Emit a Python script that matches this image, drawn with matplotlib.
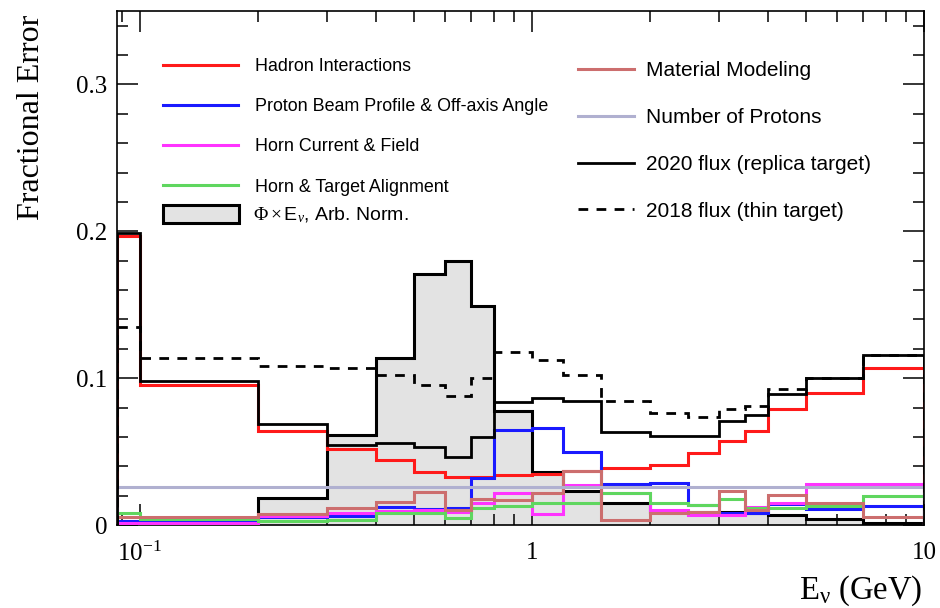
import numpy as np
import matplotlib.pyplot as plt
from matplotlib.lines import Line2D
from matplotlib.patches import Patch
from matplotlib.ticker import FixedLocator, FixedFormatter, MultipleLocator

plt.rcParams['mathtext.fontset'] = 'custom'
plt.rcParams['mathtext.rm'] = 'Liberation Serif'
plt.rcParams['mathtext.it'] = 'Liberation Serif:italic'

# bin edges in GeV
edges = [0.0875, 0.1, 0.2, 0.3, 0.4, 0.5, 0.6, 0.7, 0.8, 1.0, 1.2, 1.5,
         2.0, 2.5, 3.0, 3.5, 4.0, 5.0, 7.0, 10.0]

# fractional errors per bin
hadron = [0.197, 0.095, 0.064, 0.052, 0.044, 0.036, 0.033, 0.033, 0.034, 0.035,
          0.037, 0.039, 0.041, 0.049, 0.057, 0.064, 0.079, 0.090, 0.107]
beam = [0.003, 0.0025, 0.0055, 0.006, 0.0125, 0.0107, 0.0118, 0.0317, 0.0646, 0.0658,
        0.0499, 0.0277, 0.0288, 0.0135, 0.008, 0.0084, 0.014, 0.0109, 0.0129]
horn_current = [0.0011, 0.0016, 0.0061, 0.008, 0.0095, 0.0105, 0.009, 0.0147, 0.022, 0.0075,
                0.0272, 0.0215, 0.0102, 0.0068, 0.0068, 0.0125, 0.0152, 0.0277, 0.0277]
alignment = [0.0085, 0.0039, 0.003, 0.0034, 0.0084, 0.008, 0.0045, 0.0113, 0.0129, 0.0152,
             0.0147, 0.0215, 0.015, 0.0136, 0.018, 0.0113, 0.0113, 0.0131, 0.0197]
material = [0.0057, 0.0052, 0.0073, 0.0113, 0.0159, 0.0225, 0.0102, 0.018, 0.017, 0.0215,
            0.037, 0.0034, 0.0084, 0.009, 0.0231, 0.0102, 0.0204, 0.0147, 0.0057]
n_protons = [0.026] * 19
total_2020 = [0.199, 0.098, 0.0687, 0.0544, 0.0557, 0.0533, 0.0465, 0.060, 0.0839, 0.0866,
              0.0843, 0.0635, 0.0605, 0.0605, 0.0707, 0.0748, 0.0889, 0.1002, 0.1161]
total_2018 = [0.135, 0.1138, 0.108, 0.1066, 0.102, 0.0952, 0.088, 0.1002, 0.1179, 0.1122,
              0.102, 0.0843, 0.076, 0.0737, 0.0789, 0.081, 0.0923, 0.1002, 0.1156]
# flux x energy, arbitrary normalisation
flux = [0.0008, 0.001, 0.0185, 0.061, 0.1134, 0.171, 0.1798, 0.149, 0.0776, 0.036,
        0.023, 0.0152, 0.009, 0.009, 0.009, 0.0084, 0.0068, 0.0039, 0.0016]

xticks = [0.1, 1, 10]
xticklabels = ['$10^{-1}$', '1', '10']

fig = plt.figure(figsize=(9.4, 6.08), dpi=100)
ax = fig.add_axes([0.1245, 0.1365, 0.8585, 0.8454])

fill_col = '#e3e3e3'
ax.stairs(flux, edges, fill=True, color=fill_col, zorder=1)
ax.stairs(flux, edges, color='black', lw=2.2, zorder=2)

systs = [
    (hadron, '#ff1a1a', 'Hadron Interactions'),
    (beam, '#1a1aff', 'Proton Beam Profile & Off-axis Angle'),
    (horn_current, '#ff33ff', 'Horn Current & Field'),
    (alignment, '#5fd65f', 'Horn & Target Alignment'),
    (material, '#cc6e6e', 'Material Modeling'),
    (n_protons, '#b0b0d0', 'Number of Protons'),
]
for vals, col, lab in systs:
    ax.stairs(vals, edges, color=col, lw=2.2, zorder=3)

dash = (0, (3.5, 3))
ax.stairs(total_2020, edges, color='black', lw=2.0, zorder=4)
ax.stairs(total_2018, edges, color='black', lw=2.0, ls=dash, zorder=4)

ax.set_xscale('log')
ax.set_xlim(0.0875, 10)
ax.set_ylim(0, 0.35)

ax.xaxis.set_major_locator(FixedLocator(xticks))
ax.xaxis.set_major_formatter(FixedFormatter(xticklabels))
ax.yaxis.set_major_locator(MultipleLocator(0.1))
ax.yaxis.set_minor_locator(MultipleLocator(0.02))
ax.yaxis.set_major_formatter(plt.FuncFormatter(lambda v, p: '0' if v == 0 else f'{v:.1f}'))

ax.tick_params(which='both', direction='in', top=True, right=True, width=1.1,
               labelsize=18, labelfontfamily='Liberation Serif')
ax.tick_params(which='major', length=15)
ax.tick_params(which='minor', length=8)
ax.tick_params(axis='x', pad=12)
ax.tick_params(axis='y', pad=7)
for s in ax.spines.values():
    s.set_linewidth(1.2)

ax.set_ylabel('Fractional Error', fontsize=23, family='Liberation Serif', loc='top')
ax.yaxis.set_label_coords(-0.088, 0.992)
ax.set_xlabel('E$_{\\mathrm{\u03bd}}$ (GeV)', fontsize=23.5, family='Liberation Serif', loc='right')
ax.xaxis.set_label_coords(0.998, -0.095)

# left legend block
h1 = [Line2D([], [], color=c, lw=2.2) for _, c, _ in systs[:4]]
l1 = [lab for _, _, lab in systs[:4]]
leg1 = ax.legend(h1, l1, loc='upper left', bbox_to_anchor=(0.057, 0.909), frameon=False,
                 prop={'family': 'Liberation Sans', 'size': 12.9}, handlelength=4.2,
                 handletextpad=0.95, labelspacing=1.3, borderpad=0, borderaxespad=0)
ax.add_artist(leg1)

leg3 = ax.legend([Patch(facecolor=fill_col, edgecolor='black', lw=2.2)],
                 ['$\\Phi\\times$E$_{\\nu}$, Arb. Norm.'], loc='upper left',
                 bbox_to_anchor=(0.057, 0.622), frameon=False,
                 prop={'family': 'Liberation Sans', 'size': 14}, handlelength=3.9,
                 handleheight=1.0, handletextpad=0.75, borderpad=0, borderaxespad=0)
ax.add_artist(leg3)

# right legend block
h2 = [Line2D([], [], color=c, lw=2.2) for _, c, _ in systs[4:]]
h2.append(Line2D([], [], color='black', lw=2.0))
h2.append(Line2D([], [], color='black', lw=2.0, ls=dash))
l2 = [lab for _, _, lab in systs[4:]] + ['2020 flux (replica target)', '2018 flux (thin target)']
ax.legend(h2, l2, loc='upper left', bbox_to_anchor=(0.571, 0.902), frameon=False,
          prop={'family': 'Liberation Sans', 'size': 15}, handlelength=2.7,
          handletextpad=0.58, labelspacing=1.33, borderpad=0, borderaxespad=0)

fig.savefig('out.png', dpi=100)
